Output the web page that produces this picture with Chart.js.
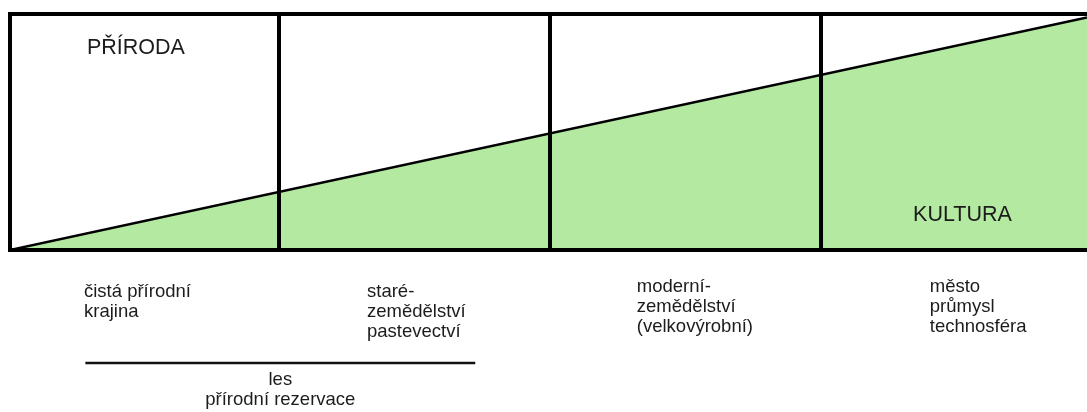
<!DOCTYPE html>
<html lang="cs">
<head>
    <meta charset="UTF-8">
    <title>Příroda a kultura</title>
    <script src="https://cdn.jsdelivr.net/npm/chart.js"></script>
    <style>
        html, body { margin: 0; padding: 0; background: #fff; overflow: hidden; }
        .chart-container { width: 1087px; height: 412px; position: relative; }
    </style>
</head>
<body>
    <div class="chart-container">
        <canvas id="landscapeChart"></canvas>
    </div>
    <script>
        // share of culture (y) along the landscape gradient (x)
        const gradientX = [0, 100];
        const cultureShare = [0, 98.5];
        const stageBounds = [25, 50.1, 75.3];
        const stageLabels = [
            ['čistá přírodní', 'krajina'],
            ['staré-', 'zemědělství', 'pastevectví'],
            ['moderní-', 'zemědělství', '(velkovýrobní)'],
            ['město', 'průmysl', 'technosféra']
        ];
        const natureLabel = 'PŘÍRODA';
        const cultureLabel = 'KULTURA';
        const forestRange = [7, 43.2];
        const forestLabel = ['les', 'přírodní rezervace'];

        const FONT = '"Liberation Sans", Arial, sans-serif';
        const TEXT_COLOR = '#1c1c1c';

        // where each stage label starts (x value) and its first baseline below the axis
        const stageLabelX = [6.87, 33.15, 58.2, 85.4];
        const stageLabelDy = [47, 47, 42, 42];

        const textPlugin = {
            id: 'textPlugin',
            afterDraw(chart) {
                const ctx = chart.ctx;
                const xs = chart.scales.x;
                const ys = chart.scales.y;
                const bottom = chart.chartArea.bottom;
                ctx.save();
                ctx.fillStyle = TEXT_COLOR;
                ctx.textBaseline = 'alphabetic';
                ctx.textAlign = 'left';

                ctx.font = '21.5px ' + FONT;
                ctx.fillText(natureLabel, xs.getPixelForValue(7.15), ys.getPixelForValue(83.1));
                ctx.fillText(cultureLabel, xs.getPixelForValue(83.85), ys.getPixelForValue(12.3));

                ctx.font = '18.5px ' + FONT;
                stageLabels.forEach((lines, i) => {
                    lines.forEach((line, j) => {
                        ctx.fillText(line, xs.getPixelForValue(stageLabelX[i]), bottom + stageLabelDy[i] + j * 20);
                    });
                });

                // forest / nature reserve bracket
                const x0 = xs.getPixelForValue(forestRange[0]);
                const x1 = xs.getPixelForValue(forestRange[1]);
                ctx.strokeStyle = '#111';
                ctx.lineWidth = 2.5;
                ctx.beginPath();
                ctx.moveTo(x0, bottom + 113);
                ctx.lineTo(x1, bottom + 113);
                ctx.stroke();

                ctx.textAlign = 'center';
                const cx = (x0 + x1) / 2;
                ctx.fillText(forestLabel[0], cx, bottom + 135);
                ctx.fillText(forestLabel[1], cx, bottom + 155);
                ctx.restore();
            }
        };

        const ctx = document.getElementById('landscapeChart').getContext('2d');
        new Chart(ctx, {
            type: 'line',
            data: {
                datasets: [{
                    data: gradientX.map((x, i) => ({ x: x, y: cultureShare[i] })),
                    borderColor: '#000',
                    borderWidth: 2.5,
                    backgroundColor: '#b3e9a0',
                    fill: 'start',
                    pointRadius: 0,
                    tension: 0
                }]
            },
            options: {
                responsive: true,
                maintainAspectRatio: false,
                animation: false,
                layout: { padding: { left: 10, top: 14, right: 0, bottom: 162 } },
                plugins: {
                    legend: { display: false },
                    tooltip: { enabled: false }
                },
                scales: {
                    x: {
                        type: 'linear',
                        min: 0,
                        max: 100,
                        afterBuildTicks: (scale) => {
                            scale.ticks = [0].concat(stageBounds, [100]).map(v => ({ value: v }));
                        },
                        ticks: { display: false },
                        grid: {
                            z: 1,
                            drawTicks: false,
                            lineWidth: 4,
                            color: (c) => {
                                const v = c.tick && c.tick.value;
                                return (v === 0 || stageBounds.includes(v)) ? '#000' : 'rgba(0,0,0,0)';
                            }
                        },
                        border: { display: true, color: '#000', width: 4, z: 1 }
                    },
                    y: {
                        min: 0,
                        max: 100,
                        ticks: { display: false, stepSize: 100 },
                        grid: {
                            z: 1,
                            drawTicks: false,
                            lineWidth: 4,
                            color: '#000'
                        },
                        border: { display: true, color: '#000', width: 4, z: 1 }
                    }
                }
            },
            plugins: [textPlugin]
        });
    </script>
</body>
</html>
